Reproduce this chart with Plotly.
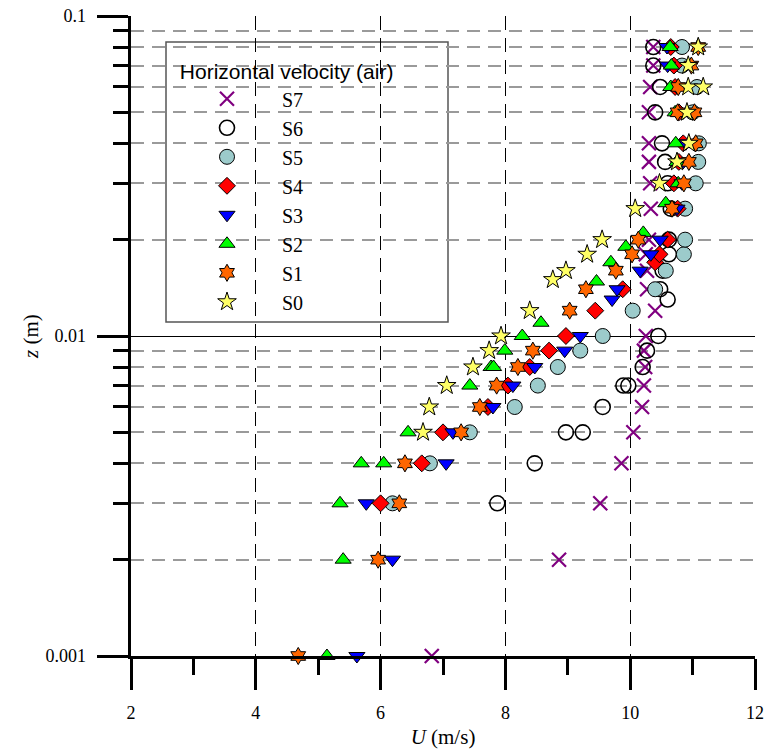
import plotly.graph_objects as go

# ---------------- data ----------------
S7_U = [6.82, 8.86, 9.52, 9.86, 10.05, 10.19, 10.22, 10.24, 10.22, 10.25, 10.40, 10.27, 10.27, 10.25, 10.30, 10.33, 10.32, 10.30, 10.30, 10.30, 10.32, 10.37, 10.37]
S7_z = [0.001, 0.002, 0.003, 0.004, 0.005, 0.006, 0.007, 0.008, 0.009, 0.01, 0.012, 0.014, 0.016, 0.018, 0.02, 0.025, 0.03, 0.035, 0.04, 0.05, 0.06, 0.07, 0.08]

S6_U = [7.87, 8.47, 8.97, 9.24, 9.56, 9.89, 9.97, 10.20, 10.27, 10.45, 10.60, 10.48, 10.52, 10.62, 10.62, 10.65, 10.60, 10.56, 10.51, 10.40, 10.48, 10.37, 10.37]
S6_z = [0.003, 0.004, 0.005, 0.005, 0.006, 0.007, 0.007, 0.008, 0.009, 0.01, 0.013, 0.014, 0.016, 0.018, 0.02, 0.025, 0.03, 0.035, 0.04, 0.05, 0.06, 0.07, 0.08]

S5_U = [6.19, 6.79, 7.43, 8.15, 8.52, 8.84, 9.20, 9.56, 10.04, 10.40, 10.57, 10.86, 10.88, 10.88, 11.05, 11.09, 11.10, 11.00, 11.07, 10.83, 10.83]
S5_z = [0.003, 0.004, 0.005, 0.006, 0.007, 0.008, 0.009, 0.01, 0.012, 0.014, 0.016, 0.018, 0.02, 0.025, 0.03, 0.035, 0.04, 0.05, 0.06, 0.07, 0.08]

S4_U = [6.00, 6.66, 7.00, 7.72, 8.04, 8.39, 8.70, 8.97, 9.44, 9.88, 10.40, 10.47, 10.60, 10.76, 10.70, 10.78, 10.85, 10.78, 10.72, 10.70, 10.65]
S4_z = [0.003, 0.004, 0.005, 0.006, 0.007, 0.008, 0.009, 0.01, 0.012, 0.014, 0.017, 0.018, 0.02, 0.025, 0.03, 0.035, 0.04, 0.05, 0.06, 0.07, 0.08]

S3_U = [5.62, 6.19, 5.77, 7.05, 7.16, 7.80, 8.12, 8.47, 8.95, 9.20, 9.71, 9.79, 10.16, 10.33, 10.48, 10.75, 10.83, 10.85, 10.89, 10.85, 10.75, 10.60, 10.59]
S3_z = [0.001, 0.002, 0.003, 0.004, 0.005, 0.006, 0.007, 0.008, 0.009, 0.01, 0.013, 0.014, 0.016, 0.018, 0.02, 0.025, 0.03, 0.035, 0.04, 0.05, 0.06, 0.07, 0.08]

S2_U = [5.14, 5.40, 5.35, 5.69, 6.05, 6.44, 7.43, 7.77, 7.81, 7.99, 8.27, 8.57, 9.46, 9.69, 9.93, 10.21, 10.57, 10.77, 10.75, 10.73, 10.72, 10.65, 10.66, 10.64]
S2_z = [0.001, 0.002, 0.003, 0.004, 0.004, 0.005, 0.007, 0.008, 0.008, 0.009, 0.01, 0.011, 0.0148, 0.017, 0.019, 0.021, 0.026, 0.03, 0.035, 0.04, 0.05, 0.06, 0.07, 0.08]

S1_U = [4.68, 5.96, 6.30, 6.39, 7.29, 7.59, 7.86, 8.20, 8.44, 9.03, 9.29, 9.77, 10.03, 10.13, 10.67, 10.86, 10.94, 11.05, 10.76, 11.03, 10.77, 10.98, 11.09]
S1_z = [0.001, 0.002, 0.003, 0.004, 0.005, 0.006, 0.007, 0.008, 0.009, 0.012, 0.014, 0.016, 0.018, 0.02, 0.025, 0.03, 0.035, 0.04, 0.05, 0.05, 0.06, 0.07, 0.08]

S0_U = [6.68, 6.78, 7.06, 7.48, 7.74, 7.93, 8.39, 8.76, 8.97, 9.31, 9.55, 10.08, 10.47, 10.75, 10.94, 10.91, 10.93, 11.17, 10.93, 11.09]
S0_z = [0.005, 0.006, 0.007, 0.008, 0.009, 0.01, 0.012, 0.015, 0.016, 0.018, 0.02, 0.025, 0.03, 0.035, 0.04, 0.05, 0.06, 0.06, 0.07, 0.08]

series_names = ["S7", "S6", "S5", "S4", "S3", "S2", "S1", "S0"]
x_tick_vals = [2, 4, 6, 8, 10, 12]
x_tick_text = ["2", "4", "6", "8", "10", "12"]
x_minor_vals = [3, 5, 7, 9, 11]
y_tick_vals = [0.001, 0.01, 0.1]
y_tick_text = ["0.001", "0.01", "0.1"]
y_minor_vals = [0.002, 0.003, 0.004, 0.005, 0.006, 0.007, 0.008, 0.009,
                0.02, 0.03, 0.04, 0.05, 0.06, 0.07, 0.08, 0.09]

# ---------------- styles ----------------
styles = {
    "S7": dict(symbol="x-thin", size=14, color="#800080", line=dict(color="#800080", width=2.2)),
    "S6": dict(symbol="circle-open", size=15, color="black", line=dict(color="black", width=1.6)),
    "S5": dict(symbol="circle", size=15, color="#9CCBCB", line=dict(color="black", width=1)),
    "S4": dict(symbol="diamond", size=13, color="#FF0000", line=dict(color="black", width=1)),
    "S3": dict(symbol="triangle-down", size=14, color="#0000FF", line=dict(color="black", width=1)),
    "S2": dict(symbol="triangle-up", size=14, color="#00FF00", line=dict(color="black", width=1)),
    "S1": dict(symbol="hexagram", size=13, color="#FF6600", line=dict(color="black", width=1)),
    "S0": dict(symbol="star", size=14, color="#FFFF66", line=dict(color="black", width=1)),
}
data = {
    "S7": (S7_U, S7_z), "S6": (S6_U, S6_z), "S5": (S5_U, S5_z), "S4": (S4_U, S4_z),
    "S3": (S3_U, S3_z), "S2": (S2_U, S2_z), "S1": (S1_U, S1_z), "S0": (S0_U, S0_z),
}

fig = go.Figure()
for name in series_names:
    u, z = data[name]
    fig.add_trace(go.Scatter(x=u, y=z, mode="markers", name=name,
                             marker=styles[name], cliponaxis=False))

serif = "Liberation Serif, Times New Roman, serif"
PL, PR, PT, PB = 131, 755, 16, 656
PW, PH = PR - PL, PB - PT
pad = "\u00a0\u2006"  # small gap between y tick labels and ticks

fig.update_layout(
    width=768, height=754,
    margin=dict(l=PL, r=768 - PR, t=PT, b=754 - PB, autoexpand=False),
    paper_bgcolor="white", plot_bgcolor="white",
    font=dict(family=serif, size=18, color="black"),
    legend=dict(
        x=(172 - PL) / PW, y=1 - (52 - PT) / PH, xanchor="left", yanchor="top",
        bgcolor="rgba(0,0,0,0)", borderwidth=0,
        font=dict(family=serif, size=20, color="black"),
        title=dict(text="\u00a0Horizontal velocity (air)",
                   font=dict(family="Liberation Sans, Arial, sans-serif", size=21)),
        itemwidth=100, tracegroupgap=0,
    ),
    shapes=[dict(type="rect", xref="paper", yref="paper",
                 x0=(166 - PL) / PW, x1=(448 - PL) / PW,
                 y0=1 - (322 - PT) / PH, y1=1 - (42 - PT) / PH,
                 line=dict(color="#555555", width=1.5), fillcolor="white", layer="between")],
)

fig.update_xaxes(
    range=[2, 12], showline=True, linecolor="black", linewidth=3,
    ticks="outside", ticklen=31, tickwidth=3, tickcolor="black",
    tickvals=x_tick_vals, ticktext=x_tick_text, ticklabelstandoff=7,
    tickfont=dict(family=serif, size=18),
    showgrid=True, gridcolor="black", gridwidth=1, griddash="14px,8px",
    minor=dict(tickmode="array", tickvals=x_minor_vals, ticks="outside",
               ticklen=16, tickwidth=2.5, tickcolor="black", showgrid=False),
    zeroline=False,
    title=dict(text="<i>U</i> (m/s)", font=dict(family=serif, size=21), standoff=8),
)
fig.update_yaxes(
    type="log", range=[-3, -1], showline=True, linecolor="black", linewidth=3,
    ticks="outside", ticklen=31, tickwidth=3, tickcolor="black",
    tickvals=y_tick_vals, ticktext=[t + pad for t in y_tick_text],
    tickfont=dict(family=serif, size=18),
    showgrid=True, gridcolor="black", gridwidth=1,
    minor=dict(tickmode="array", tickvals=y_minor_vals, ticks="outside",
               ticklen=15, tickwidth=2.5, tickcolor="black",
               showgrid=True, gridcolor="#9a9a9a", gridwidth=1.5, griddash="13px,8px"),
    zeroline=False,
    title=dict(text="<i>z</i> (m)", font=dict(family=serif, size=21), standoff=2),
)

fig.write_html("out.html")
